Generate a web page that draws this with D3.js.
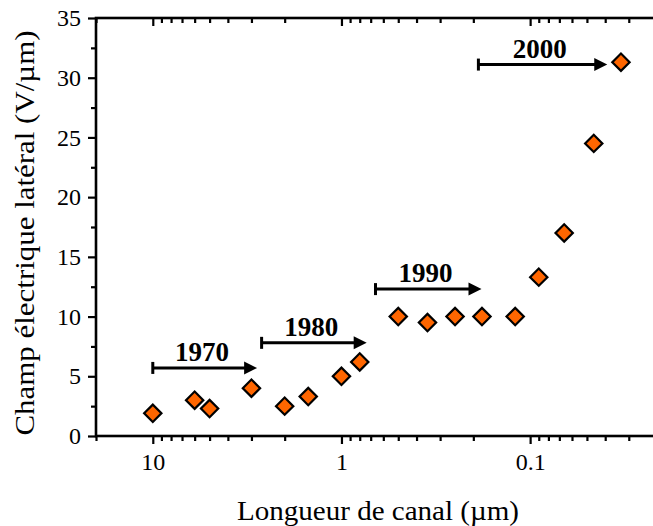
<!DOCTYPE html>
<html>
<head>
<meta charset="utf-8">
<script src="https://cdn.jsdelivr.net/npm/d3@7"></script>
<style>
  html, body { margin: 0; padding: 0; background: #fff; }
  svg { display: block; }
  text { font-family: "Liberation Serif", "Times New Roman", serif; fill: #000; }
</style>
</head>
<body>
<svg id="chart" width="653" height="526"></svg>
<script>
// ---- data ----
const channelLengths = [10, 6, 5, 3, 2, 1.5, 1, 0.8, 0.5, 0.35, 0.25, 0.18, 0.12, 0.09, 0.066, 0.046, 0.033];
const fieldValues    = [1.9, 3.0, 2.3, 4.0, 2.5, 3.3, 5.0, 6.2, 10.0, 9.5, 10.0, 10.0, 10.0, 13.3, 17.0, 24.5, 31.3];

const eraLabels = ["1970", "1980", "1990", "2000"];
const eraStart  = [10, 2.65, 0.66, 0.188];
const eraEnd    = [2.8, 0.735, 0.181, 0.039];
const eraField  = [5.7, 7.8, 12.3, 31.1];

const xMajorTicks = [10, 1, 0.1];
const xTickLabels = ["10", "1", "0.1"];
const yMajorTicks = [0, 5, 10, 15, 20, 25, 30, 35];
const yTickLabels = ["0", "5", "10", "15", "20", "25", "30", "35"];

const xTitle = "Longueur de canal (µm)";
const yTitle = "Champ électrique latéral (V/µm)";

// ---- layout ----
const svg = d3.select("#chart");
const pL = 96, pR = 662, pT = 18, pB = 436;

const x = d3.scaleLog().domain([20, 0.02]).range([pL, pR]);
const y = d3.scaleLinear().domain([0, 35]).range([pB, pT]);

const xMinor = [];
[[2, 9, 10], [1, 9, 1], [1, 9, 0.1], [2, 9, 0.01]].forEach(([a, b, m]) => {
  for (let k = a; k <= b; k++) xMinor.push(+(k * m).toPrecision(3));
});
const xMinorOnly = xMinor.filter(v => !xMajorTicks.includes(v) && v <= 20 && v >= 0.02);
const yMinor = d3.range(2.5, 35, 5);

const axisW = 2.6, majLen = 8, minLen = 5;
const g = svg.append("g");

// frame
g.append("rect").attr("x", pL).attr("y", pT)
  .attr("width", pR - pL).attr("height", pB - pT)
  .attr("fill", "none").attr("stroke", "#000").attr("stroke-width", axisW);

function styleTicks(s) { s.select(".domain").remove(); s.selectAll("line").attr("stroke", "#000").attr("stroke-width", 2.2); }

// bottom axis (outward ticks)
const bAx = g.append("g").attr("transform", `translate(0,${pB})`)
  .call(d3.axisBottom(x).tickValues(xMajorTicks).tickFormat((d, i) => xTickLabels[i])
        .tickSizeInner(majLen).tickSizeOuter(0).tickPadding(9));
styleTicks(bAx);
bAx.selectAll("text").attr("font-size", 24).attr("font-family", "Liberation Serif");
g.append("g").attr("transform", `translate(0,${pB})`)
  .call(d3.axisBottom(x).tickValues(xMinorOnly).tickFormat("").tickSizeInner(minLen).tickSizeOuter(0))
  .call(styleTicks);

// top axis (inward ticks)
g.append("g").attr("transform", `translate(0,${pT})`)
  .call(d3.axisBottom(x).tickValues(xMajorTicks).tickFormat("").tickSizeInner(majLen).tickSizeOuter(0))
  .call(styleTicks);
g.append("g").attr("transform", `translate(0,${pT})`)
  .call(d3.axisBottom(x).tickValues(xMinorOnly).tickFormat("").tickSizeInner(minLen).tickSizeOuter(0))
  .call(styleTicks);

// left axis (outward ticks)
const lAx = g.append("g").attr("transform", `translate(${pL},0)`)
  .call(d3.axisLeft(y).tickValues(yMajorTicks).tickFormat((d, i) => yTickLabels[i])
        .tickSizeInner(majLen).tickSizeOuter(0).tickPadding(7));
styleTicks(lAx);
lAx.selectAll("text").attr("font-size", 24).attr("font-family", "Liberation Serif");
g.append("g").attr("transform", `translate(${pL},0)`)
  .call(d3.axisLeft(y).tickValues(yMinor).tickFormat("").tickSizeInner(minLen).tickSizeOuter(0))
  .call(styleTicks);

// right axis (inward ticks)
g.append("g").attr("transform", `translate(${pR},0)`)
  .call(d3.axisLeft(y).tickValues(yMajorTicks).tickFormat("").tickSizeInner(majLen).tickSizeOuter(0))
  .call(styleTicks);

// axis titles
svg.append("text").attr("x", 378).attr("y", 520).attr("text-anchor", "middle")
  .attr("font-size", 27).attr("textLength", 282).attr("lengthAdjust", "spacingAndGlyphs").text(xTitle);
svg.append("text").attr("transform", `translate(34,233) rotate(-90)`).attr("text-anchor", "middle")
  .attr("font-size", 27).attr("textLength", 405).attr("lengthAdjust", "spacingAndGlyphs").text(yTitle);

// era arrows
const head = 13, headH = 13, capH = 12;
const eras = g.append("g");
eraLabels.forEach((lab, i) => {
  const x0 = x(eraStart[i]), x1 = x(eraEnd[i]), yy = y(eraField[i]);
  eras.append("line").attr("x1", x0).attr("x2", x1 - head + 1).attr("y1", yy).attr("y2", yy)
    .attr("stroke", "#000").attr("stroke-width", 3);
  eras.append("line").attr("x1", x0).attr("x2", x0).attr("y1", yy - capH / 2).attr("y2", yy + capH / 2)
    .attr("stroke", "#000").attr("stroke-width", 3);
  eras.append("path").attr("d", `M${x1},${yy} L${x1 - head},${yy - headH / 2} L${x1 - head},${yy + headH / 2} Z`)
    .attr("fill", "#000");
  eras.append("text").attr("x", (x0 + x1) / 2 - 3).attr("y", yy - 7).attr("text-anchor", "middle")
    .attr("font-size", 27).attr("font-weight", "bold").text(lab);
});

// points
const diamond = d3.symbol().type(d3.symbolSquare).size(150);
g.append("g").selectAll("path").data(channelLengths).join("path")
  .attr("d", diamond)
  .attr("transform", (d, i) => `translate(${x(d)},${y(fieldValues[i])}) rotate(45)`)
  .attr("fill", "#ff6600").attr("stroke", "#000").attr("stroke-width", 2.2);
</script>
</body>
</html>
